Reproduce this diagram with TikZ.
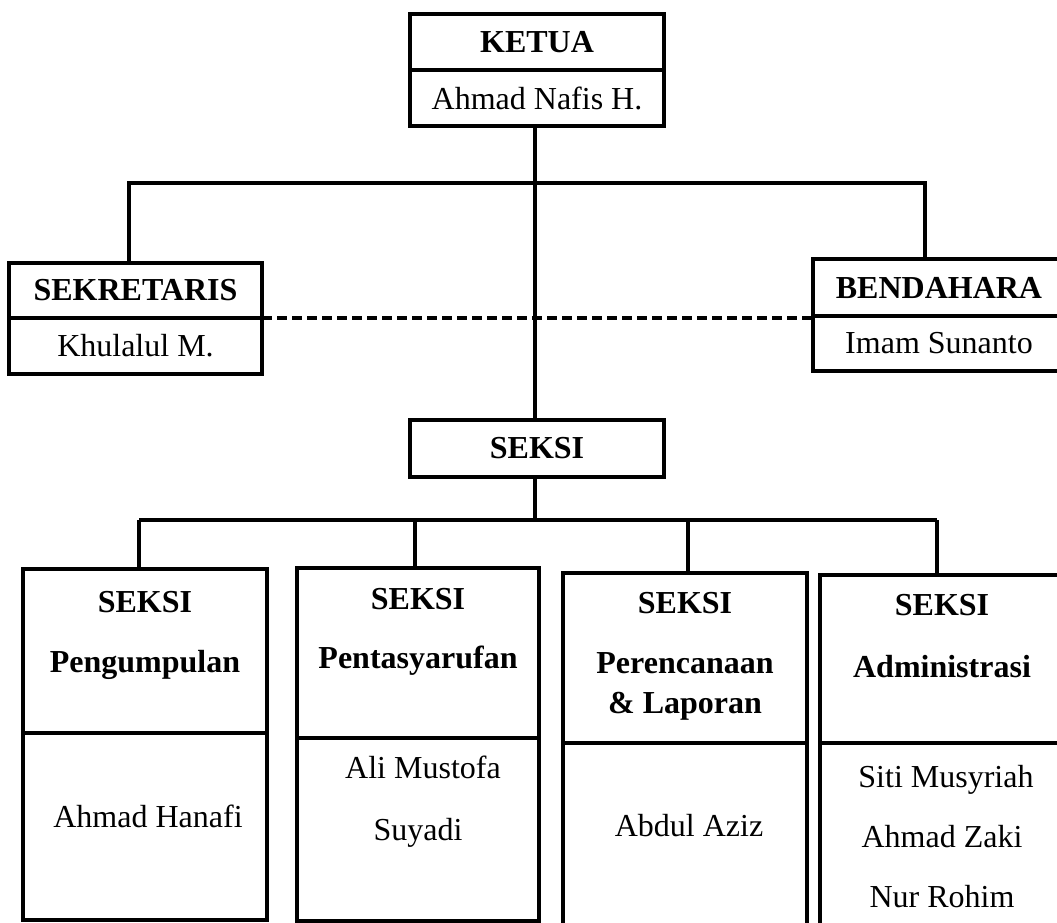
\documentclass[tikz,border=0pt]{standalone}
\usepackage{fontspec}
\setmainfont{Liberation Serif}
\begin{document}
\begin{tikzpicture}[x=1pt,y=-1pt,
  cell/.style={draw, line width=3.5pt, inner sep=0pt, outer sep=0pt, anchor=center,
    font=\fontsize{32}{38}\selectfont},
  hd/.style={font=\fontsize{32}{38}\selectfont\bfseries},
  lbl/.style={anchor=base, inner sep=0pt, font=\fontsize{32}{38}\selectfont},
  blbl/.style={anchor=base, inner sep=0pt, font=\fontsize{32}{38}\selectfont\bfseries},
  conn/.style={line width=3.5pt},
  dconn/.style={line width=3.5pt, dash pattern=on 10pt off 5pt}]
\useasboundingbox (0,0) rectangle (1057,923);
\clip (0,0) rectangle (1057,923);
\fill[white] (0,0) rectangle (1057,923);

% KETUA
\node[cell, hd, minimum width=254pt, minimum height=56pt] (ketT) at (537,42) {KETUA};
\node[cell, minimum width=254pt, minimum height=56pt] (ketB) at (537,98) {Ahmad Nafis H.};

% SEKRETARIS
\node[cell, hd, minimum width=253pt, minimum height=55pt] (sekT) at (135.5,290.5) {SEKRETARIS};
\node[cell, minimum width=253pt, minimum height=56pt] (sekB) at (135.5,346) {Khulalul M.};

% BENDAHARA
\node[cell, hd, minimum width=252pt, minimum height=57pt] (benT) at (939,287.5) {BENDAHARA};
\node[cell, minimum width=252pt, minimum height=55pt] (benB) at (939,343.5) {Imam Sunanto};

% SEKSI
\node[cell, hd, minimum width=254pt, minimum height=57pt] (seksi) at (537,448.5) {SEKSI};

% Bottom boxes
\node[cell, minimum width=244pt, minimum height=164pt] (b1T) at (145,651) {};
\node[cell, minimum width=244pt, minimum height=187pt] (b1B) at (145,826.5) {};
\node[cell, minimum width=242pt, minimum height=170pt] (b2T) at (418,653) {};
\node[cell, minimum width=242pt, minimum height=183pt] (b2B) at (418,829.5) {};
\node[cell, minimum width=244pt, minimum height=170pt] (b3T) at (685,658) {};
\node[cell, minimum width=244pt, minimum height=192pt] (b3B) at (685,839) {};
\node[cell, minimum width=244pt, minimum height=168pt] (b4T) at (942,659) {};
\node[cell, minimum width=244pt, minimum height=192pt] (b4B) at (942,839) {};

% Bottom labels
\node[blbl] (l1a) at (145,612) {SEKSI};
\node[blbl] (l1b) at (145,672) {Pengumpulan};
\node[lbl]  (l1c) at (148,827) {Ahmad Hanafi};

\node[blbl] (l2a) at (418,609) {SEKSI};
\node[blbl] (l2b) at (418,668) {Pentasyarufan};
\node[lbl]  (l2c) at (423,778) {Ali Mustofa};
\node[lbl]  (l2d) at (418,840) {Suyadi};

\node[blbl] (l3a) at (685,613) {SEKSI};
\node[blbl] (l3b) at (685,673) {Perencanaan};
\node[blbl] (l3c) at (685,713) {\& Laporan};
\node[lbl]  (l3d) at (689,836) {Abdul Aziz};

\node[blbl] (l4a) at (942,615) {SEKSI};
\node[blbl] (l4b) at (942,677) {Administrasi};
\node[lbl]  (l4c) at (946,787) {Siti Musyriah};
\node[lbl]  (l4d) at (942,847) {Ahmad Zaki};
\node[lbl]  (l4e) at (942,907) {Nur Rohim};

% Connectors
\coordinate (topbar) at (535,183);
\coordinate (botbar) at (535,520);
\draw[conn] (ketB.south -| topbar) -- (seksi.north -| topbar);
\draw[conn] (sekT.north -| 129,0) -- (129,183) -- (925,183) -- (benT.north -| 925,0);
\draw[conn] (seksi.south -| botbar) -- (botbar);
\draw[conn] (139,520) -- (937,520);
\draw[conn] (139,520) -- (b1T.north -| 139,0);
\draw[conn] (415,520) -- (b2T.north -| 415,0);
\draw[conn] (688,520) -- (b3T.north -| 688,0);
\draw[conn] (937,520) -- (b4T.north -| 937,0);
\draw[dconn] (sekT.south east) -- (benT.south west |- sekT.south east);
\end{tikzpicture}
\end{document}
